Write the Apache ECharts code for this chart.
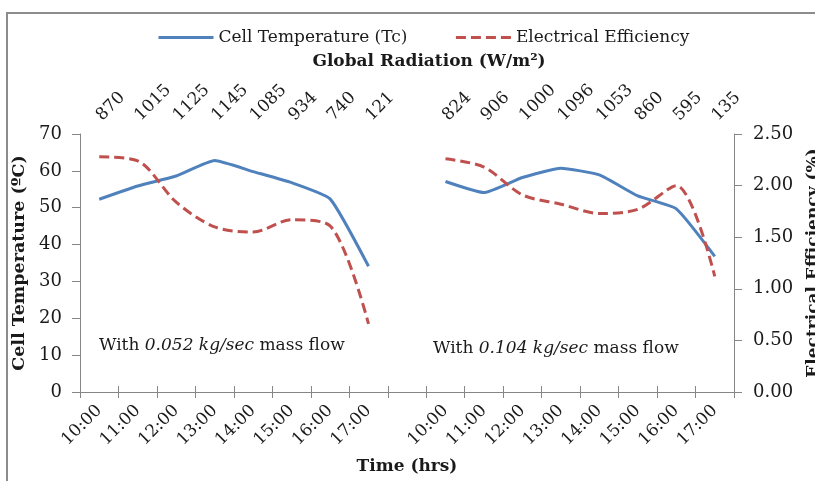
<!DOCTYPE html>
<html><head><meta charset="utf-8">
<script src="https://cdn.jsdelivr.net/npm/echarts@6/dist/echarts.min.js"></script>
<style>html,body{margin:0;padding:0;background:#fff}#c{width:815px;height:481px}</style>
</head><body><div id="c"></div>
<script>
var times = ['10:00','11:00','12:00','13:00','14:00','15:00','16:00','17:00','','10:00','11:00','12:00','13:00','14:00','15:00','16:00','17:00'];
var radiation = ['870','1015','1125','1145','1085','934','740','121','','824','906','1000','1096','1053','860','595','135'];
var cellTemp = [52.3, 55.9, 58.6, 62.8, 59.8, 56.8, 52.4, 34.1, null, 57.1, 54.1, 58.2, 60.7, 58.9, 53.2, 49.7, 36.8];
var efficiency = [2.28, 2.24, 1.84, 1.60, 1.55, 1.67, 1.61, 0.66, null, 2.26, 2.18, 1.91, 1.82, 1.73, 1.77, 2.00, 1.12];
var leftTicks = [0, 70, 10];
var rightTicks = [0, 2.5, 0.5];

var FONT = 'DejaVu Serif';
var TXT = '#1a1a1a';
var axisGray = '#868686';
var chart = echarts.init(document.getElementById('c'));
chart.setOption({
  animation: false,
  textStyle: {fontFamily: FONT},
  graphic: [
    {type: 'rect', shape: {x: 7, y: 13, width: 900, height: 600}, style: {fill: 'none', stroke: '#8c8c8c', lineWidth: 2}},
    {type: 'text', left: 99, top: 337, style: {
      text: 'With {i|0.052 kg/sec} mass flow',
      font: '17px "DejaVu Serif"', fill: TXT,
      rich: {i: {fontStyle: 'italic', fontSize: 17, fontFamily: FONT, fill: TXT}}
    }},
    {type: 'text', left: 433, top: 340, style: {
      text: 'With {i|0.104 kg/sec} mass flow',
      font: '17px "DejaVu Serif"', fill: TXT,
      rich: {i: {fontStyle: 'italic', fontSize: 17, fontFamily: FONT, fill: TXT}}
    }}
  ],
  legend: {
    top: 24, left: 152, itemGap: 47, itemWidth: 55, itemHeight: 14,
    itemStyle: {opacity: 0},
    lineStyle: {width: 3},
    textStyle: {fontFamily: FONT, fontSize: 17, color: TXT},
    data: ['Cell Temperature (Tc)', 'Electrical Efficiency']
  },
  grid: {left: 80, right: 81, top: 134, bottom: 89, outerBoundsMode: 'none', containLabel: false},
  xAxis: [
    {type: 'category', position: 'bottom', data: times,
     name: 'Time (hrs)', nameLocation: 'middle', nameGap: 66,
     nameTextStyle: {fontFamily: FONT, fontSize: 17, fontWeight: 'bold', color: TXT},
     axisLine: {lineStyle: {color: axisGray}},
     axisTick: {show: true, interval: 0, length: 6, lineStyle: {color: axisGray}},
     axisLabel: {interval: 0, rotate: 45, margin: 16, fontFamily: FONT, fontSize: 17, color: TXT}},
    {type: 'category', position: 'top', data: radiation,
     name: 'Global Radiation (W/m²)', nameLocation: 'middle', nameGap: 64,
     nameTextStyle: {fontFamily: FONT, fontSize: 17, fontWeight: 'bold', color: TXT, padding: [0, 0, 0, 44]},
     axisLine: {lineStyle: {color: axisGray}},
     axisTick: {show: true, interval: 0, length: 6, lineStyle: {color: axisGray}},
     axisLabel: {interval: 0, rotate: 45, margin: 16, fontFamily: FONT, fontSize: 17, color: TXT}}
  ],
  yAxis: [
    {type: 'value', position: 'left', min: leftTicks[0], max: leftTicks[1], interval: leftTicks[2],
     name: 'Cell Temperature (ºC)', nameLocation: 'middle', nameGap: 43, nameRotate: 90,
     nameTextStyle: {fontFamily: FONT, fontSize: 17.5, fontWeight: 'bold', color: TXT},
     splitLine: {show: false},
     axisLine: {show: true, lineStyle: {color: axisGray}},
     axisTick: {show: true, length: 8, lineStyle: {color: axisGray}},
     axisLabel: {margin: 18, fontFamily: FONT, fontSize: 18, color: TXT}},
    {type: 'value', position: 'right', min: rightTicks[0], max: rightTicks[1], interval: rightTicks[2],
     name: 'Electrical Efficiency (%)', nameLocation: 'middle', nameGap: 71, nameRotate: 90,
     nameTextStyle: {fontFamily: FONT, fontSize: 17, fontWeight: 'bold', color: TXT},
     splitLine: {show: false},
     axisLine: {show: true, lineStyle: {color: axisGray}},
     axisTick: {show: true, length: 8, lineStyle: {color: axisGray}},
     axisLabel: {margin: 19, fontFamily: FONT, fontSize: 18, color: TXT,
       formatter: function (v) { return v.toFixed(2); }}}
  ],
  series: [
    {name: 'Cell Temperature (Tc)', type: 'line', xAxisIndex: 0, yAxisIndex: 0, data: cellTemp,
     symbol: 'none', connectNulls: false, smooth: 0.15,
     lineStyle: {color: '#4F81BD', width: 3}, itemStyle: {color: '#4F81BD'}},
    {name: 'Electrical Efficiency', type: 'line', xAxisIndex: 0, yAxisIndex: 1, data: efficiency,
     symbol: 'none', connectNulls: false, smooth: 0.3,
     lineStyle: {color: '#C0504D', width: 3, type: [10, 5]}, itemStyle: {color: '#C0504D'}}
  ]
});
</script></body></html>
